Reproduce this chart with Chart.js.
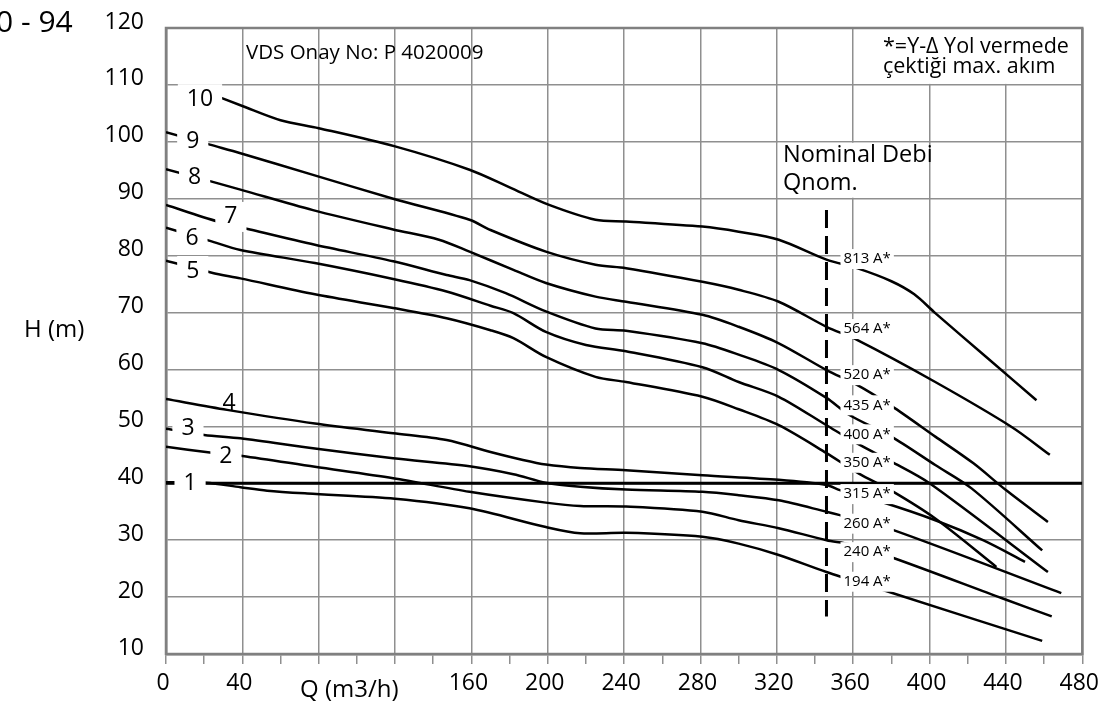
<!DOCTYPE html>
<html>
<head>
<meta charset="utf-8">
<script src="https://cdn.jsdelivr.net/npm/chart.js@4.4.0/dist/chart.umd.min.js"></script>
<style>
  html, body { margin: 0; padding: 0; background: #fff; }
  #wrap { width: 1108px; height: 706px; }
</style>
</head>
<body>
<div id="wrap"><canvas id="pumpChart"></canvas></div>
<script>
// Q (m3/h), H (m) noktalari - kademe sayisina gore
const stage1 = [[0,40.2],[21,40.1],[39,39.3],[53,38.7],[74,38.2],[120,37.3],[159,35.6],[199,32.3],[217,31.2],[241,31.3],[281,30.6],[300,29.4],[321,27.4],[346,24.4],[376,21.2],[459,12.3]];
const stage2 = [[0,46.4],[23,45.4],[40,44.8],[78,42.9],[119,40.9],[159,38.5],[199,36.6],[217,36.0],[241,35.9],[281,35.0],[300,33.5],[321,32.1],[346,30.0],[358,29.3],[380,27.0],[438,19.8],[464,16.6]];
const stage3 = [[0,49.6],[20,48.5],[39,47.9],[78,46.1],[119,44.4],[159,43.0],[182,41.6],[199,40.1],[217,39.4],[241,38.9],[281,38.5],[300,37.9],[321,37.0],[346,35.0],[353,34.4],[380,31.9],[469,20.7]];
const stage4 = [[0,54.8],[32,52.9],[78,50.5],[119,48.8],[147,47.6],[170,45.5],[187,44.1],[199,43.3],[217,42.7],[241,42.3],[281,41.4],[321,40.6],[346,39.7],[353,38.8],[375,36.7],[403,33.5],[428,30.0],[450,26.2]];
const stage5 = [[0,79.1],[24,77.0],[39,76.0],[78,73.2],[119,70.8],[147,69.0],[170,66.9],[182,65.5],[199,62.2],[225,58.7],[241,57.8],[281,55.2],[300,53.0],[321,50.2],[346,45.3],[363,41.7],[380,38.7],[403,33.8],[435,25.3]];
const stage6 = [[0,84.9],[23,82.6],[39,81.0],[78,78.7],[119,75.9],[147,73.7],[170,71.2],[182,69.9],[199,66.6],[220,64.3],[241,63.2],[281,60.4],[300,57.8],[321,55.2],[346,50.2],[362,47.0],[380,43.8],[400,40.0],[462,24.4]];
const stage7 = [[0,88.9],[27,86.0],[44,84.6],[78,81.9],[119,79.0],[147,76.6],[159,75.7],[178,73.4],[199,70.2],[225,67.2],[241,66.8],[281,64.6],[300,62.6],[321,59.9],[346,55.0],[358,52.0],[380,48.2],[403,43.2],[422,39.1],[459,28.2]];
const stage8 = [[0,95.2],[24,93.0],[39,91.6],[77,88.0],[119,84.6],[143,82.8],[159,80.7],[182,77.5],[199,75.2],[225,72.8],[241,71.9],[281,69.6],[300,67.5],[321,64.6],[346,59.9],[362,57.3],[380,53.6],[403,48.2],[423,43.5],[440,38.8],[462,33.2]];
const stage9 = [[0,101.7],[23,99.5],[39,98.0],[77,94.2],[119,90.0],[159,86.3],[170,84.5],[199,80.7],[225,78.4],[241,77.8],[281,75.4],[300,74.0],[321,71.9],[346,67.5],[362,65.2],[403,57.8],[443,49.9],[463,45.0]];
const stage10 = [[22,108.6],[40,106.3],[60,103.8],[80,102.4],[120,99.2],[159,95.1],[180,92.0],[200,89.0],[225,86.3],[241,86.0],[281,85.1],[300,84.2],[321,82.8],[346,79.3],[362,77.8],[380,75.5],[392,73.2],[403,69.9],[430,62.1],[456,54.6]];
const limitLine = [[0,40],[480,40]];

const stageNames = ['1','2','3','4','5','6','7','8','9','10'];
const currentLabels = ['194 A*','240 A*','260 A*','315 A*','350 A*','400 A*','435 A*','520 A*','564 A*','813 A*'];
const xTicks = [0,40,160,200,240,280,320,360,400,440,480];
const yTicks = [10,20,30,40,50,60,70,80,90,100,110,120];
const nominalQ = 346;

const FONT = '"Open Sans", "DejaVu Sans", sans-serif';
const GRID = '#8f8f8f';

const stages = [stage1,stage2,stage3,stage4,stage5,stage6,stage7,stage8,stage9,stage10];

// etiket konumlari (deger koordinatinda)
const stageLabelPos = [[12.6,40.0],[31.4,44.7],[11.5,49.7],[33,54.1],[14,77.3],[13.6,83.1],[34,86.8],[15,93.7],[14,100],[17.8,107.5]];
const currentLabelY = [22.7,27.9,32.9,38.1,43.6,48.6,53.7,59.0,67.1,79.4];

function toXY(arr) {
    return arr.map(p => ({x: p[0], y: p[1]}));
}

const datasets = stages.map((s, i) => ({
    label: stageNames[i],
    data: toXY(s),
    borderColor: '#000',
    borderWidth: 2.5,
    pointRadius: 0,
    fill: false,
    tension: 0.3
}));
datasets.push({
    label: '40 m',
    data: toXY(limitLine),
    borderColor: '#000',
    borderWidth: 3,
    pointRadius: 0,
    fill: false
});

function whiteText(ctx, text, cx, cy, padX, h, align) {
    const w = ctx.measureText(text).width;
    let left = align === 'left' ? cx : cx - w / 2;
    ctx.fillStyle = '#fff';
    ctx.fillRect(left - padX, cy - h / 2, w + padX * 2, h);
    ctx.fillStyle = '#000';
    ctx.fillText(text, left, cy);
}

const overlayPlugin = {
    id: 'overlay',
    beforeDatasetsDraw(chart) {
        const {ctx, chartArea: a, scales: {x, y}} = chart;
        ctx.save();
        ctx.fillStyle = '#fff';
        // sag ust aciklama kutusu
        let x1 = x.getPixelForValue(360), x2 = x.getPixelForValue(480);
        let y1 = y.getPixelForValue(120), y2 = y.getPixelForValue(110);
        ctx.fillRect(x1 + 1.5, y1, x2 - x1 - 1.5, y2 - y1 - 1);
        // nominal debi kutusu
        x1 = x.getPixelForValue(320); x2 = x.getPixelForValue(400);
        y1 = y.getPixelForValue(100); y2 = y.getPixelForValue(90);
        ctx.fillRect(x1 + 1, y1 + 1, x2 - x1 - 2, y2 - y1 - 2);
        ctx.strokeStyle = '#808080';
        ctx.lineWidth = 2.5;
        ctx.strokeRect(a.left, a.top, a.right - a.left, a.bottom - a.top);
        ctx.restore();
    },
    afterDatasetsDraw(chart) {
        const {ctx, scales: {x, y}} = chart;
        ctx.save();
        ctx.textBaseline = 'middle';

        // nominal debi kesikli cizgi
        ctx.strokeStyle = '#000';
        ctx.lineWidth = 3;
        ctx.setLineDash([18, 8]);
        ctx.beginPath();
        ctx.moveTo(x.getPixelForValue(nominalQ), y.getPixelForValue(88));
        ctx.lineTo(x.getPixelForValue(nominalQ), y.getPixelForValue(16.6));
        ctx.stroke();
        ctx.setLineDash([]);

        // kademe numaralari
        ctx.font = '23px ' + FONT;
        stageNames.forEach((n, i) => {
            const cx = x.getPixelForValue(stageLabelPos[i][0]);
            const cy = y.getPixelForValue(stageLabelPos[i][1]);
            if (n === '4') {
                ctx.fillStyle = '#000';
                ctx.textAlign = 'center';
                ctx.fillText(n, cx, cy);
                ctx.textAlign = 'left';
            } else {
                whiteText(ctx, n, cx, cy, 9, 30, 'center');
            }
        });

        // akim etiketleri
        ctx.font = '15px ' + FONT;
        currentLabels.forEach((t, i) => {
            whiteText(ctx, t, x.getPixelForValue(nominalQ) + 17, y.getPixelForValue(currentLabelY[i]), 3, 20, 'left');
        });

        ctx.fillStyle = '#000';
        ctx.font = '20.5px ' + FONT;
        ctx.fillText('VDS Onay No: P 4020009', 246, 53);
        ctx.font = '21.5px ' + FONT;
        ctx.fillText('*=Y-\u0394 Yol vermede', 883, 47);
        ctx.fillText('çektiği max. akım', 883, 67);
        ctx.font = '23.5px ' + FONT;
        ctx.fillText('Nominal Debi', 783, 155);
        ctx.fillText('Qnom.', 783, 183);

        ctx.font = '24px ' + FONT;
        ctx.fillText('H (m)', 24, 330);
        ctx.textAlign = 'center';
        ctx.font = '24px ' + FONT;
        ctx.fillText('Q (m3/h)', x.getPixelForValue(96), 690);
        ctx.textAlign = 'left';
        ctx.font = '30px ' + FONT;
        ctx.fillText('0 - 94', -4, 23);
        ctx.restore();
    }
};

const ctx = document.getElementById('pumpChart').getContext('2d');
const pumpChart = new Chart(ctx, {
    type: 'line',
    data: { datasets: datasets },
    options: {
        responsive: true,
        maintainAspectRatio: false,
        animation: false,
        layout: { padding: { left: 0, right: 25, top: 28, bottom: 0 } },
        plugins: {
            legend: { display: false },
            tooltip: { enabled: false }
        },
        scales: {
            x: {
                type: 'linear',
                min: 0,
                max: 480,
                afterFit: function(scale) { scale.height = 52; },
                ticks: {
                    stepSize: 20,
                    autoSkip: false,
                    maxRotation: 0,
                    padding: 6,
                    labelOffset: -3,
                    color: '#000',
                    font: { size: 23, family: FONT },
                    callback: function(value) {
                        return xTicks.includes(value) ? value : '';
                    }
                },
                grid: {
                    color: function(c) {
                        return c.tick && c.tick.value % 40 === 0 ? GRID : 'rgba(0,0,0,0)';
                    },
                    tickColor: GRID,
                    tickLength: 10,
                    lineWidth: 1.5
                },
                border: { color: '#808080', width: 2.5 }
            },
            y: {
                min: 10,
                max: 120,
                afterFit: function(scale) {
                    scale.width = 166;
                    // etiket boslugu cizim alanini asagi itmesin
                    scale.paddingTop = 0;
                    scale.paddingBottom = 0;
                },
                ticks: {
                    stepSize: 10,
                    padding: 22,
                    labelOffset: -6,
                    color: '#000',
                    font: { size: 23, family: FONT },
                    callback: function(value) {
                        return yTicks.includes(value) ? value : '';
                    }
                },
                grid: {
                    color: GRID,
                    lineWidth: 1.5,
                    drawTicks: false
                },
                border: { color: '#808080', width: 2.5 }
            }
        }
    },
    plugins: [overlayPlugin]
});
</script>
</body>
</html>
